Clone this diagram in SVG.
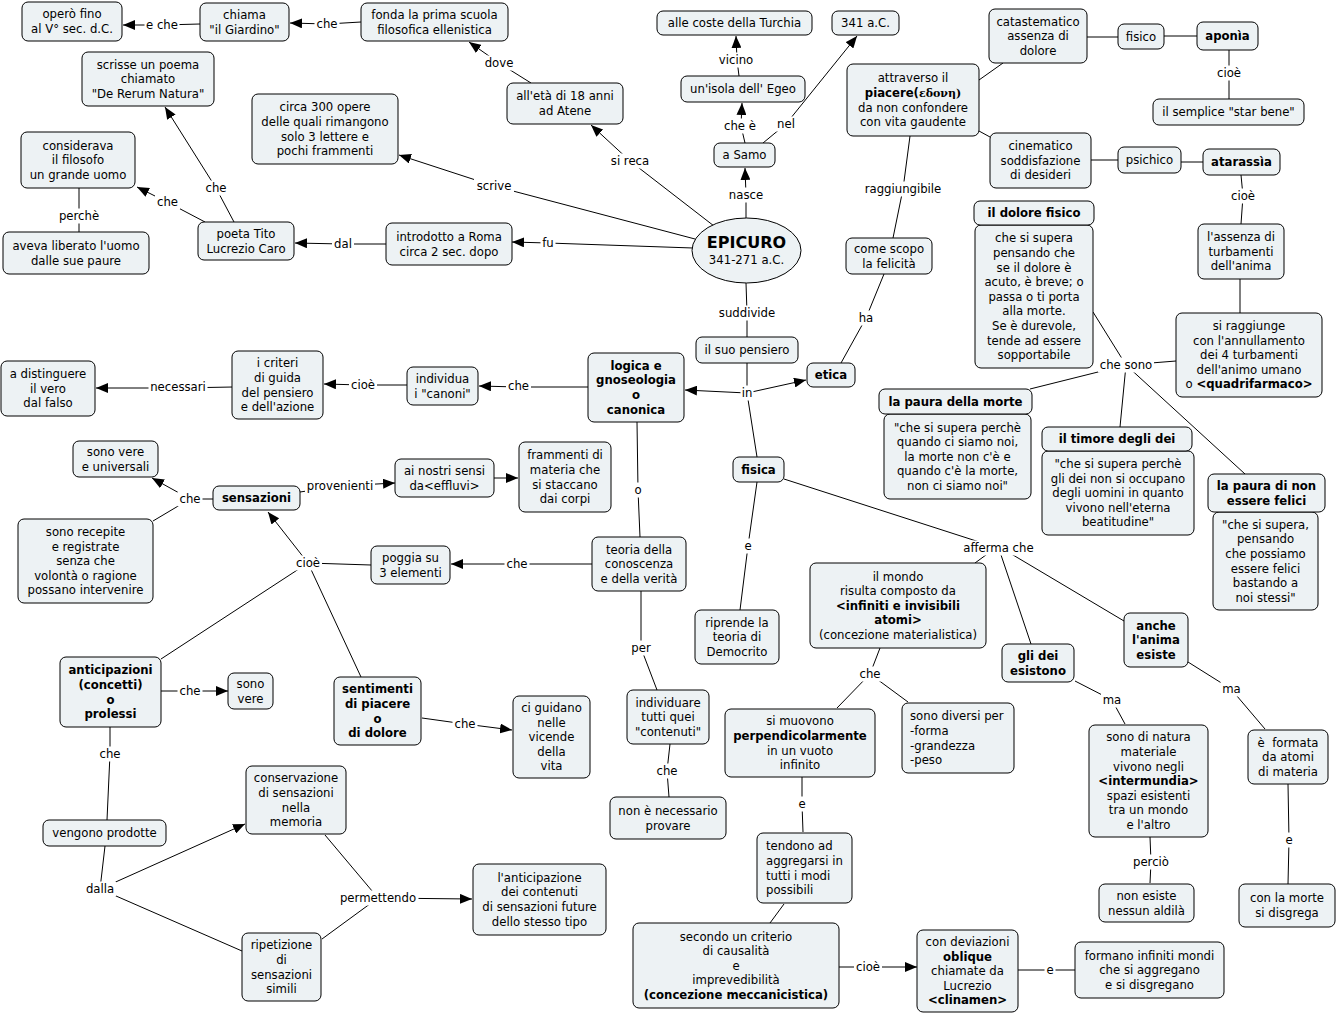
<svg xmlns="http://www.w3.org/2000/svg" width="1337" height="1015" viewBox="0 0 1337 1015">
<style>
text{font-family:"DejaVu Sans",Verdana,sans-serif;font-size:11.7px;fill:#000;text-anchor:middle}
.l{text-anchor:start}
.b{font-weight:bold}
.g{font-family:"DejaVu Serif",serif;font-weight:bold;font-size:11px}
.n rect,.n ellipse{fill:#edf2f4;stroke:#000;stroke-width:1}
.c path{fill:none;stroke:#000;stroke-width:1}
.c .a{marker-end:url(#ah)}
.c rect{fill:#fff}
</style>
<defs>
<marker id="ah" markerUnits="userSpaceOnUse" markerWidth="12" markerHeight="10" refX="12" refY="5" orient="auto"><path d="M0,0 L12,5 L0,10 z" fill="#000"/></marker>
</defs>
<rect width="1337" height="1015" fill="#fff"/>
<g class="c" id="connectors">
<path class="a" d="M200,24 L162,25 L123,25"/>
<path class="a" d="M361,22 L327,24 L290,23"/>
<path class="a" d="M531,83 L499,63 L469,42"/>
<path class="a" d="M739,76 L737,60 L736,36"/>
<path class="a" d="M745,143 L741,126 L742,103"/>
<path class="a" d="M763,143 L786,124 L857,36"/>
<path class="a" d="M746,218 L746,195 L745,168"/>
<path class="a" d="M714,226 L630,161 L591,125"/>
<path class="a" d="M695,239 L494,186 L399,155"/>
<path class="a" d="M693,248 L548,243 L512,242"/>
<path class="a" d="M386,244 L343,244 L295,243"/>
<path class="a" d="M205,222 L167,202 L137,187"/>
<path class="a" d="M234,222 L216,188 L165,107"/>
<path d="M79,188 L79,232"/>
<path d="M910,136 L903,189 L893,238"/>
<path d="M979,80 L1003,63"/>
<path d="M979,131 L990,137"/>
<path d="M1087,37 L1118,37"/>
<path d="M1164,36 L1197,36"/>
<path d="M1229,50 L1229,99"/>
<path d="M1091,160 L1118,160"/>
<path d="M1181,162 L1203,162"/>
<path d="M1241,175 L1243,196 L1241,224"/>
<path d="M1240,279 L1240,313"/>
<path d="M1176,361 L1126,365"/>
<path d="M1093,312 L1126,365"/>
<path d="M1126,365 L1030,389"/>
<path d="M1126,365 L1120,427"/>
<path d="M1126,365 L1245,474"/>
<path d="M841,363 L866,318 L884,274"/>
<path d="M746,283 L747,313 L747,337"/>
<path d="M747,363 L747,393"/>
<path class="a" d="M747,393 L685,390"/>
<path class="a" d="M747,393 L806,380"/>
<path d="M747,393 L757,457"/>
<path class="a" d="M588,387 L518,387 L479,386"/>
<path class="a" d="M407,385 L363,385 L324,384"/>
<path class="a" d="M233,387 L178,388 L96,388"/>
<path d="M213,499 L190,499"/>
<path class="a" d="M190,499 L152,478"/>
<path d="M190,499 L153,521"/>
<path class="a" d="M300,492 L340,486 L395,483"/>
<path class="a" d="M494,478 L518,478"/>
<path class="a" d="M308,563 L268,512"/>
<path d="M371,565 L308,563"/>
<path d="M308,563 L161,659"/>
<path d="M308,563 L361,677"/>
<path class="a" d="M592,564 L517,564 L451,564"/>
<path d="M637,422 L638,490 L640,537"/>
<path d="M757,482 L748,546 L740,610"/>
<path d="M784,479 L998,548"/>
<path d="M990,552 L975,563"/>
<path d="M1000,552 L1031,644"/>
<path d="M1008,552 L1124,621"/>
<path d="M880,648 L870,674 L837,708"/>
<path d="M870,674 L908,702"/>
<path d="M802,777 L802,804 L803,832"/>
<path d="M784,904 L770,923"/>
<path class="a" d="M839,967 L868,967 L917,967"/>
<path d="M1018,970 L1075,970"/>
<path d="M1075,681 L1112,700 L1125,724"/>
<path d="M1188,662 L1231,689 L1265,729"/>
<path d="M1150,837 L1151,862 L1150,883"/>
<path d="M1288,784 L1289,840 L1288,884"/>
<path class="a" d="M161,691 L190,691 L228,691"/>
<path d="M110,727 L110,754 L107,820"/>
<path d="M105,846 L100,889"/>
<path class="a" d="M100,889 L245,824"/>
<path d="M100,889 L242,951"/>
<path d="M325,835 L378,898"/>
<path d="M322,939 L378,898"/>
<path class="a" d="M378,898 L472,899"/>
<path class="a" d="M422,718 L465,724 L512,730"/>
<path d="M641,591 L641,648 L657,690"/>
<path d="M670,744 L667,771 L669,797"/>
<g id="labels">
<rect x="144.5" y="17.5" width="35" height="15"/><text x="162" y="29.2">e che</text>
<rect x="314.5" y="16.5" width="25" height="15"/><text x="327" y="28.2">che</text>
<rect x="483" y="55.5" width="32" height="15"/><text x="499" y="67.2">dove</text>
<rect x="717" y="52.5" width="38" height="15"/><text x="736" y="64.2">vicino</text>
<rect x="722" y="118.5" width="36" height="15"/><text x="740" y="130.2">che è</text>
<rect x="776" y="116.5" width="20" height="15"/><text x="786" y="128.2">nel</text>
<rect x="727" y="187.5" width="38" height="15"/><text x="746" y="199.2">nasce</text>
<rect x="608.5" y="153.5" width="43" height="15"/><text x="630" y="165.2">si reca</text>
<rect x="474" y="178.5" width="40" height="15"/><text x="494" y="190.2">scrive</text>
<rect x="540.5" y="235.5" width="15" height="15"/><text x="548" y="247.2">fu</text>
<rect x="332" y="236.5" width="22" height="15"/><text x="343" y="248.2">dal</text>
<rect x="155" y="194.5" width="25" height="15"/><text x="167.5" y="206.2">che</text>
<rect x="203.5" y="180.5" width="25" height="15"/><text x="216" y="192.2">che</text>
<rect x="57" y="208.5" width="44" height="15"/><text x="79" y="220.2">perchè</text>
<rect x="862" y="181.5" width="82" height="15"/><text x="903" y="193.2">raggiungibile</text>
<rect x="1215" y="65.5" width="28" height="15"/><text x="1229" y="77.2">cioè</text>
<rect x="1229" y="188.5" width="28" height="15"/><text x="1243" y="200.2">cioè</text>
<rect x="857" y="310.5" width="18" height="15"/><text x="866" y="322.2">ha</text>
<rect x="716.5" y="305.5" width="61" height="15"/><text x="747" y="317.2">suddivide</text>
<rect x="740.5" y="385.5" width="13" height="15"/><text x="747" y="397.2">in</text>
<rect x="506" y="378.5" width="25" height="15"/><text x="518.5" y="390.2">che</text>
<rect x="632.5" y="482.5" width="11" height="15"/><text x="638" y="494.2">o</text>
<rect x="504.5" y="556.5" width="25" height="15"/><text x="517" y="568.2">che</text>
<rect x="742.5" y="538.5" width="11" height="15"/><text x="748" y="550.2">e</text>
<rect x="148.5" y="379.5" width="59" height="15"/><text x="178" y="391.2">necessari</text>
<rect x="349" y="377.5" width="28" height="15"/><text x="363" y="389.2">cioè</text>
<rect x="177.5" y="491.5" width="25" height="15"/><text x="190" y="503.2">che</text>
<rect x="305" y="478.5" width="70" height="15"/><text x="340" y="490.2">provenienti</text>
<rect x="294" y="555.5" width="28" height="15"/><text x="308" y="567.2">cioè</text>
<rect x="177.5" y="683.5" width="25" height="15"/><text x="190" y="695.2">che</text>
<rect x="97.5" y="746.5" width="25" height="15"/><text x="110" y="758.2">che</text>
<rect x="84" y="881.5" width="32" height="15"/><text x="100" y="893.2">dalla</text>
<rect x="337.5" y="890.5" width="81" height="15"/><text x="378" y="902.2">permettendo</text>
<rect x="452.5" y="716.5" width="25" height="15"/><text x="465" y="728.2">che</text>
<rect x="629.5" y="640.5" width="23" height="15"/><text x="641" y="652.2">per</text>
<rect x="654.5" y="763.5" width="25" height="15"/><text x="667" y="775.2">che</text>
<rect x="857.5" y="666.5" width="25" height="15"/><text x="870" y="678.2">che</text>
<rect x="796.5" y="796.5" width="11" height="15"/><text x="802" y="808.2">e</text>
<rect x="854" y="959.5" width="28" height="15"/><text x="868" y="971.2">cioè</text>
<rect x="1101" y="692.5" width="22" height="15"/><text x="1112" y="704.2">ma</text>
<rect x="1220.5" y="681.5" width="22" height="15"/><text x="1231.5" y="693.2">ma</text>
<rect x="1131.5" y="854.5" width="39" height="15"/><text x="1151" y="866.2">perciò</text>
<rect x="1283.5" y="832.5" width="11" height="15"/><text x="1289" y="844.2">e</text>
<rect x="1044.5" y="962.5" width="11" height="15"/><text x="1050" y="974.2">e</text>
<rect x="1098" y="357.5" width="56" height="15"/><text x="1126" y="369.2">che sono</text>
<rect x="961" y="540.5" width="75" height="15"/><text x="998.5" y="552.2">afferma che</text>
</g>
</g>
<g class="n" id="n_opero"><rect x="22" y="2" width="100" height="39" rx="6"/><text x="72" y="18.4">operò fino<tspan x="72" dy="14.6">al V° sec. d.C.</tspan></text></g>
<g class="n" id="n_chiama"><rect x="200" y="3" width="89" height="38" rx="6"/><text x="244.5" y="18.9">chiama<tspan x="244.5" dy="14.6">"il Giardino"</tspan></text></g>
<g class="n" id="n_fonda"><rect x="361" y="3" width="147" height="38" rx="6"/><text x="434.5" y="18.9">fonda la prima scuola<tspan x="434.5" dy="14.6">filosofica ellenistica</tspan></text></g>
<g class="n" id="n_scrisse"><rect x="82" y="52" width="132" height="54" rx="6"/><text x="148" y="68.6">scrisse un poema<tspan x="148" dy="14.6">chiamato</tspan><tspan x="148" dy="14.6">"De Rerum Natura"</tspan></text></g>
<g class="n" id="n_circa"><rect x="252" y="94" width="146" height="70" rx="6"/><text x="325" y="111.3">circa 300 opere<tspan x="325" dy="14.6">delle quali rimangono</tspan><tspan x="325" dy="14.6">solo 3 lettere e</tspan><tspan x="325" dy="14.6">pochi frammenti</tspan></text></g>
<g class="n" id="n_considerava"><rect x="21" y="132" width="114" height="56" rx="6"/><text x="78" y="149.6">considerava<tspan x="78" dy="14.6">il filosofo</tspan><tspan x="78" dy="14.6">un grande uomo</tspan></text></g>
<g class="n" id="n_aveva"><rect x="3" y="232" width="146" height="42" rx="6"/><text x="76" y="249.9">aveva liberato l'uomo<tspan x="76" dy="14.6">dalle sue paure</tspan></text></g>
<g class="n" id="n_poeta"><rect x="198" y="222" width="96" height="38" rx="6"/><text x="246" y="237.9">poeta Tito<tspan x="246" dy="14.6">Lucrezio Caro</tspan></text></g>
<g class="n" id="n_introdotto"><rect x="386" y="223" width="126" height="42" rx="6"/><text x="449" y="240.9">introdotto a Roma<tspan x="449" dy="14.6">circa 2 sec. dopo</tspan></text></g>
<g class="n" id="n_coste"><rect x="657" y="11" width="155" height="24" rx="6"/><text x="734.5" y="27.2">alle coste della Turchia</text></g>
<g class="n" id="n_341"><rect x="832" y="11" width="67" height="24" rx="6"/><text x="865.5" y="27.2">341 a.C.</text></g>
<g class="n" id="n_eta"><rect x="507" y="83" width="116" height="41" rx="6"/><text x="565" y="100.4">all'età di 18 anni<tspan x="565" dy="14.6">ad Atene</tspan></text></g>
<g class="n" id="n_isola"><rect x="681" y="76" width="124" height="26" rx="6"/><text x="743" y="93.2">un'isola dell' Egeo</text></g>
<g class="n" id="n_samo"><rect x="714" y="143" width="61" height="24" rx="6"/><text x="744.5" y="159.2">a Samo</text></g>
<g class="n" id="n_epicuro"><ellipse cx="746.5" cy="250.5" rx="54.5" ry="32.5"/><text x="746.5" y="248" class="b" style="font-size:16px">EPICURO</text><text x="746.5" y="264">341-271 a.C.</text></g>
<g class="n" id="n_catastematico"><rect x="989" y="9" width="98" height="54" rx="6"/><text x="1038" y="25.6">catastematico<tspan x="1038" dy="14.6">assenza di</tspan><tspan x="1038" dy="14.6">dolore</tspan></text></g>
<g class="n" id="n_fisico"><rect x="1118" y="24" width="46" height="25" rx="6"/><text x="1141" y="40.7">fisico</text></g>
<g class="n" id="n_aponia"><rect x="1197" y="22" width="61" height="28" rx="6"/><text x="1227.5" y="40.2" class="b">aponìa</text></g>
<g class="n" id="n_semplice"><rect x="1153" y="99" width="151" height="26" rx="6"/><text x="1228.5" y="116.2">il semplice "star bene"</text></g>
<g class="n" id="n_attraverso"><rect x="847" y="64" width="132" height="72" rx="6"/><text x="913" y="82.3">attraverso il<tspan x="913" dy="14.6"><tspan class="b">piacere(</tspan><tspan class="g">εδονη)</tspan></tspan><tspan x="913" dy="14.6">da non confondere</tspan><tspan x="913" dy="14.6">con vita gaudente</tspan></text></g>
<g class="n" id="n_cinematico"><rect x="990" y="133" width="101" height="55" rx="6"/><text x="1040.5" y="150.1">cinematico<tspan x="1040.5" dy="14.6">soddisfazione</tspan><tspan x="1040.5" dy="14.6">di desideri</tspan></text></g>
<g class="n" id="n_psichico"><rect x="1118" y="147" width="63" height="26" rx="6"/><text x="1149.5" y="164.2">psichico</text></g>
<g class="n" id="n_atarassia"><rect x="1203" y="149" width="77" height="26" rx="6"/><text x="1241.5" y="166.2" class="b">atarassìa</text></g>
<g class="n" id="n_assenza"><rect x="1198" y="224" width="86" height="55" rx="6"/><text x="1241" y="241.1">l'assenza di<tspan x="1241" dy="14.6">turbamenti</tspan><tspan x="1241" dy="14.6">dell'anima</tspan></text></g>
<g class="n" id="n_dolore"><rect x="975" y="225" width="118" height="143" rx="6"/><rect x="974" y="201" width="120" height="24" rx="6"/><text x="1034" y="217.2" class="b">il dolore fisico</text><text x="1034" y="242.3">che si supera<tspan x="1034" dy="14.6">pensando che</tspan><tspan x="1034" dy="14.6">se il dolore è</tspan><tspan x="1034" dy="14.6">acuto, è breve; o</tspan><tspan x="1034" dy="14.6">passa o ti porta</tspan><tspan x="1034" dy="14.6">alla morte.</tspan><tspan x="1034" dy="14.6">Se è durevole,</tspan><tspan x="1034" dy="14.6">tende ad essere</tspan><tspan x="1034" dy="14.6">sopportabile</tspan></text></g>
<g class="n" id="n_comescopo"><rect x="846" y="238" width="86" height="36" rx="6"/><text x="889" y="252.9">come scopo<tspan x="889" dy="14.6">la felicità</tspan></text></g>
<g class="n" id="n_siraggiunge"><rect x="1176" y="313" width="146" height="84" rx="6"/><text x="1249" y="330">si raggiunge<tspan x="1249" dy="14.6">con l'annullamento</tspan><tspan x="1249" dy="14.6">dei 4 turbamenti</tspan><tspan x="1249" dy="14.6">dell'animo umano</tspan><tspan x="1249" dy="14.6">o <tspan class="b">&lt;quadrifarmaco&gt;</tspan></tspan></text></g>
<g class="n" id="n_pauramorte"><rect x="884" y="414" width="147" height="85" rx="6"/><rect x="879" y="389" width="153" height="25" rx="6"/><text x="955.5" y="405.7" class="b">la paura della morte</text><text x="957.5" y="431.5">"che si supera perchè<tspan x="957.5" dy="14.6">quando ci siamo noi,</tspan><tspan x="957.5" dy="14.6">la morte non c'è e</tspan><tspan x="957.5" dy="14.6">quando c'è la morte,</tspan><tspan x="957.5" dy="14.6">non ci siamo noi"</tspan></text></g>
<g class="n" id="n_timore"><rect x="1042" y="451" width="152" height="84" rx="6"/><rect x="1042" y="427" width="150" height="24" rx="6"/><text x="1117" y="443.2" class="b">il timore degli dei</text><text x="1118" y="468">"che si supera perchè<tspan x="1118" dy="14.6">gli dei non si occupano</tspan><tspan x="1118" dy="14.6">degli uomini in quanto</tspan><tspan x="1118" dy="14.6">vivono nell'eterna</tspan><tspan x="1118" dy="14.6">beatitudine"</tspan></text></g>
<g class="n" id="n_paurafelici"><rect x="1213" y="512" width="105" height="98" rx="6"/><rect x="1208" y="474" width="117" height="38" rx="6"/><text x="1266.5" y="489.9" class="b">la paura di non<tspan x="1266.5" dy="14.6">essere felici</tspan></text><text x="1265.5" y="528.7">"che si supera,<tspan x="1265.5" dy="14.6">pensando</tspan><tspan x="1265.5" dy="14.6">che possiamo</tspan><tspan x="1265.5" dy="14.6">essere felici</tspan><tspan x="1265.5" dy="14.6">bastando a</tspan><tspan x="1265.5" dy="14.6">noi stessi"</tspan></text></g>
<g class="n" id="n_distinguere"><rect x="1" y="361" width="94" height="55" rx="6"/><text x="48" y="378.1">a distinguere<tspan x="48" dy="14.6">il vero</tspan><tspan x="48" dy="14.6">dal falso</tspan></text></g>
<g class="n" id="n_criteri"><rect x="232" y="351" width="91" height="68" rx="6"/><text x="277.5" y="367.3">i criteri<tspan x="277.5" dy="14.6">di guida</tspan><tspan x="277.5" dy="14.6">del pensiero</tspan><tspan x="277.5" dy="14.6">e dell'azione</tspan></text></g>
<g class="n" id="n_individua"><rect x="407" y="367" width="71" height="38" rx="6"/><text x="442.5" y="382.9">individua<tspan x="442.5" dy="14.6">i "canoni"</tspan></text></g>
<g class="n" id="n_logica"><rect x="588" y="353" width="96" height="69" rx="6"/><text x="636" y="369.8" class="b">logica e<tspan x="636" dy="14.6">gnoseologia</tspan><tspan x="636" dy="14.6">o</tspan><tspan x="636" dy="14.6">canonica</tspan></text></g>
<g class="n" id="n_pensiero"><rect x="696" y="337" width="102" height="26" rx="6"/><text x="747" y="354.2">il suo pensiero</text></g>
<g class="n" id="n_etica"><rect x="807" y="363" width="48" height="24" rx="6"/><text x="831" y="379.2" class="b">etica</text></g>
<g class="n" id="n_fisica"><rect x="733" y="457" width="51" height="25" rx="6"/><text x="758.5" y="473.7" class="b">fisica</text></g>
<g class="n" id="n_sonovereuniv"><rect x="73" y="441" width="85" height="36" rx="6"/><text x="115.5" y="455.9">sono vere<tspan x="115.5" dy="14.6">e universali</tspan></text></g>
<g class="n" id="n_sensazioni"><rect x="213" y="486" width="87" height="24" rx="6"/><text x="256.5" y="502.2" class="b">sensazioni</text></g>
<g class="n" id="n_recepite"><rect x="18" y="519" width="135" height="84" rx="6"/><text x="85.5" y="536">sono recepite<tspan x="85.5" dy="14.6">e registrate</tspan><tspan x="85.5" dy="14.6">senza che</tspan><tspan x="85.5" dy="14.6">volontà o ragione</tspan><tspan x="85.5" dy="14.6">possano intervenire</tspan></text></g>
<g class="n" id="n_ainostri"><rect x="395" y="459" width="99" height="38" rx="6"/><text x="444.5" y="474.9">ai nostri sensi<tspan x="444.5" dy="14.6">da&lt;effluvi&gt;</tspan></text></g>
<g class="n" id="n_frammenti"><rect x="519" y="442" width="92" height="70" rx="6"/><text x="565" y="459.3">frammenti di<tspan x="565" dy="14.6">materia che</tspan><tspan x="565" dy="14.6">si staccano</tspan><tspan x="565" dy="14.6">dai corpi</tspan></text></g>
<g class="n" id="n_poggia"><rect x="371" y="546" width="79" height="38" rx="6"/><text x="410.5" y="561.9">poggia su<tspan x="410.5" dy="14.6">3 elementi</tspan></text></g>
<g class="n" id="n_teoria"><rect x="592" y="537" width="94" height="54" rx="6"/><text x="639" y="553.6">teoria della<tspan x="639" dy="14.6">conoscenza</tspan><tspan x="639" dy="14.6">e della verità</tspan></text></g>
<g class="n" id="n_riprende"><rect x="695" y="610" width="84" height="54" rx="6"/><text x="737" y="626.6">riprende la<tspan x="737" dy="14.6">teoria di</tspan><tspan x="737" dy="14.6">Democrito</tspan></text></g>
<g class="n" id="n_individuare"><rect x="627" y="690" width="82" height="54" rx="6"/><text x="668" y="706.6">individuare<tspan x="668" dy="14.6">tutti quei</tspan><tspan x="668" dy="14.6">"contenuti"</tspan></text></g>
<g class="n" id="n_nonenecessario"><rect x="610" y="797" width="116" height="42" rx="6"/><text x="668" y="814.9">non è necessario<tspan x="668" dy="14.6">provare</tspan></text></g>
<g class="n" id="n_ciguidano"><rect x="513" y="696" width="77" height="82" rx="6"/><text x="551.5" y="712">ci guidano<tspan x="551.5" dy="14.6">nelle</tspan><tspan x="551.5" dy="14.6">vicende</tspan><tspan x="551.5" dy="14.6">della</tspan><tspan x="551.5" dy="14.6">vita</tspan></text></g>
<g class="n" id="n_anticipazione"><rect x="473" y="864" width="133" height="71" rx="6"/><text x="539.5" y="881.8">l'anticipazione<tspan x="539.5" dy="14.6">dei contenuti</tspan><tspan x="539.5" dy="14.6">di sensazioni future</tspan><tspan x="539.5" dy="14.6">dello stesso tipo</tspan></text></g>
<g class="n" id="n_mondo"><rect x="810" y="563" width="176" height="85" rx="6"/><text x="898" y="580.5">il mondo<tspan x="898" dy="14.6">risulta composto da</tspan><tspan x="898" dy="14.6" class="b">&lt;infiniti e invisibili</tspan><tspan x="898" dy="14.6" class="b">atomi&gt;</tspan><tspan x="898" dy="14.6">(concezione materialistica)</tspan></text></g>
<g class="n" id="n_simuovono"><rect x="725" y="709" width="150" height="68" rx="6"/><text x="800" y="725.3">si muovono<tspan x="800" dy="14.6" class="b">perpendicolarmente</tspan><tspan x="800" dy="14.6">in un vuoto</tspan><tspan x="800" dy="14.6">infinito</tspan></text></g>
<g class="n" id="n_tendono"><rect x="757" y="833" width="95" height="70" rx="6"/><text class="l" x="766" y="850.3">tendono ad<tspan x="766" dy="14.6">aggregarsi in</tspan><tspan x="766" dy="14.6">tutti i modi</tspan><tspan x="766" dy="14.6">possibili</tspan></text></g>
<g class="n" id="n_secondo"><rect x="633" y="923" width="206" height="85" rx="6"/><text x="736" y="940.5">secondo un criterio<tspan x="736" dy="14.6">di causalità</tspan><tspan x="736" dy="14.6">e</tspan><tspan x="736" dy="14.6">imprevedibilità</tspan><tspan x="736" dy="14.6" class="b">(concezione meccanicistica)</tspan></text></g>
<g class="n" id="n_diversi"><rect x="902" y="703" width="112" height="70" rx="6"/><text class="l" x="910" y="720.3">sono diversi per<tspan x="910" dy="14.6">-forma</tspan><tspan x="910" dy="14.6">-grandezza</tspan><tspan x="910" dy="14.6">-peso</tspan></text></g>
<g class="n" id="n_glidei"><rect x="1002" y="644" width="72" height="38" rx="6"/><text x="1038" y="659.9" class="b">gli dei<tspan x="1038" dy="14.6">esistono</tspan></text></g>
<g class="n" id="n_anima"><rect x="1124" y="613" width="64" height="54" rx="6"/><text x="1156" y="629.6" class="b">anche<tspan x="1156" dy="14.6">l'anima</tspan><tspan x="1156" dy="14.6">esiste</tspan></text></g>
<g class="n" id="n_natura"><rect x="1089" y="725" width="119" height="112" rx="6"/><text x="1148.5" y="741.4">sono di natura<tspan x="1148.5" dy="14.6">materiale</tspan><tspan x="1148.5" dy="14.6">vivono negli</tspan><tspan x="1148.5" dy="14.6" class="b">&lt;intermundia&gt;</tspan><tspan x="1148.5" dy="14.6">spazi esistenti</tspan><tspan x="1148.5" dy="14.6">tra un mondo</tspan><tspan x="1148.5" dy="14.6">e l'altro</tspan></text></g>
<g class="n" id="n_nonesiste"><rect x="1099" y="884" width="95" height="38" rx="6"/><text x="1146.5" y="899.9">non esiste<tspan x="1146.5" dy="14.6">nessun aldilà</tspan></text></g>
<g class="n" id="n_formata"><rect x="1248" y="730" width="80" height="54" rx="6"/><text x="1288" y="746.6">è&#160; formata<tspan x="1288" dy="14.6">da atomi</tspan><tspan x="1288" dy="14.6">di materia</tspan></text></g>
<g class="n" id="n_conlamorte"><rect x="1239" y="884" width="96" height="43" rx="6"/><text x="1287" y="902.4">con la morte<tspan x="1287" dy="14.6">si disgrega</tspan></text></g>
<g class="n" id="n_deviazioni"><rect x="917" y="930" width="101" height="82" rx="6"/><text x="967.5" y="946">con deviazioni<tspan x="967.5" dy="14.6" class="b">oblique</tspan><tspan x="967.5" dy="14.6">chiamate da</tspan><tspan x="967.5" dy="14.6">Lucrezio</tspan><tspan x="967.5" dy="14.6" class="b">&lt;clinamen&gt;</tspan></text></g>
<g class="n" id="n_formano"><rect x="1075" y="942" width="149" height="56" rx="6"/><text x="1149.5" y="959.6">formano infiniti mondi<tspan x="1149.5" dy="14.6">che si aggregano</tspan><tspan x="1149.5" dy="14.6">e si disgregano</tspan></text></g>
<g class="n" id="n_anticipazioni"><rect x="60" y="657" width="101" height="70" rx="6"/><text x="110.5" y="674.3" class="b">anticipazioni<tspan x="110.5" dy="14.6">(concetti)</tspan><tspan x="110.5" dy="14.6">o</tspan><tspan x="110.5" dy="14.6">prolessi</tspan></text></g>
<g class="n" id="n_sonovere"><rect x="228" y="673" width="45" height="36" rx="6"/><text x="250.5" y="687.9">sono<tspan x="250.5" dy="14.6">vere</tspan></text></g>
<g class="n" id="n_sentimenti"><rect x="334" y="677" width="87" height="68" rx="6"/><text x="377.5" y="693.3" class="b">sentimenti<tspan x="377.5" dy="14.6">di piacere</tspan><tspan x="377.5" dy="14.6">o</tspan><tspan x="377.5" dy="14.6">di dolore</tspan></text></g>
<g class="n" id="n_vengono"><rect x="43" y="820" width="123" height="26" rx="6"/><text x="104.5" y="837.2">vengono prodotte</text></g>
<g class="n" id="n_conservazione"><rect x="246" y="766" width="100" height="68" rx="6"/><text x="296" y="782.3">conservazione<tspan x="296" dy="14.6">di sensazioni</tspan><tspan x="296" dy="14.6">nella</tspan><tspan x="296" dy="14.6">memoria</tspan></text></g>
<g class="n" id="n_ripetizione"><rect x="242" y="933" width="79" height="68" rx="6"/><text x="281.5" y="949.3">ripetizione<tspan x="281.5" dy="14.6">di</tspan><tspan x="281.5" dy="14.6">sensazioni</tspan><tspan x="281.5" dy="14.6">simili</tspan></text></g>
</svg>
